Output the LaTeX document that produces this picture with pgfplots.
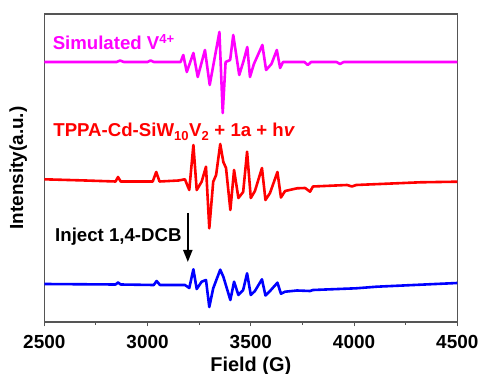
\documentclass[border=0pt]{standalone}
\usepackage{fontspec}
\setmainfont{Liberation Sans}
\usepackage{pgfplots}
\pgfplotsset{compat=1.18}
\usetikzlibrary{arrows.meta}
\definecolor{axgray}{RGB}{85,85,85}
\definecolor{cmag}{RGB}{255,0,255}
\definecolor{cred}{RGB}{255,0,0}
\definecolor{cblue}{RGB}{0,0,255}
\newcommand{\lf}{\fontsize{18.7}{22}\selectfont\bfseries}
\newcommand{\tf}{\fontsize{19}{22}\selectfont\bfseries}
\begin{document}
\begin{tikzpicture}
\useasboundingbox (-44.3bp,-52bp) rectangle (435.7bp,322bp);
\begin{axis}[
  at={(0,0)}, anchor=south west,
  width=413bp, height=308bp, scale only axis,
  xmin=2500, xmax=4500, ymin=0, ymax=308,
  xtick={2500,3000,3500,4000,4500},
  minor x tick num=1,
  ytick=\empty,
  xtick pos=left,
  tick align=outside,
  major tick length=4.3bp, minor tick length=2.5bp,
  axis line style={draw=axgray, line width=1.1bp},
  tick style={draw=axgray, line width=1.1bp},
  /pgf/number format/1000 sep={},
  /pgf/number format/assume math mode=true,
  xticklabel style={font=\tf, inner sep=0pt, anchor=north, yshift=-9bp},
  xlabel={Field (G)},
  ylabel={Intensity(a.u.)},
  xlabel style={font=\fontsize{20}{24}\selectfont\bfseries, at={(axis description cs:0.5,-0.1429)}, anchor=center},
  ylabel style={font=\tf, at={(axis description cs:-0.063,0.5)}, anchor=center},
  clip=true,
]
\addplot[cmag, line width=2.6bp, line join=round] coordinates {
(2500,260) (2850,260) (2867,261.5) (2885,260) (3000,260) (3015,261.5) (3030,260)
(3160,260) (3173,267) (3190,250) (3222,269) (3243,245) (3278,272) (3301,237)
(3348,290) (3364,209) (3378,260) (3400,262) (3415,287) (3444,247) (3465,261)
(3483,275) (3496,245) (3515,258) (3556,277) (3574,252) (3600,258) (3626,272)
(3642,254) (3656,260) (3760,260) (3776,257) (3792,260) (3915,260) (3932,258)
(3950,260) (4500,260)
};
\addplot[cred, line width=2.6bp, line join=round] coordinates {
(2500,142.7) (2700,141.5) (2845,140.5) (2857,145) (2870,140.5) (3025,140.5)
(3042,150) (3058,140.5) (3150,141.5) (3181,142.7) (3202,132) (3222,177)
(3238,132) (3262,140.3) (3283,155.3) (3299,93.7) (3318,140.3) (3332,147)
(3352,178) (3367,160) (3380,154) (3401,112) (3419,152) (3440,124) (3463,130)
(3482,170.3) (3500,124) (3520,131) (3554,154) (3571,122) (3593,129)
(3629,150) (3646,124.5) (3666,131) (3724,133.7) (3763,134) (3787,130.3)
(3801,135.5) (3966,137) (3990,135.5) (4010,137) (4320,139.7) (4500,140.3)
};
\addplot[cblue, line width=2.6bp, line join=round] coordinates {
(2500,38) (2845,37.5) (2857,39.5) (2870,37.5) (3030,37) (3044,41) (3060,37)
(3181,37) (3202,34) (3222,52.7) (3238,33) (3262,40.3) (3283,42) (3299,15)
(3318,33.7) (3352,52.3) (3367,45.3) (3401,22) (3419,40.3) (3440,27) (3463,32)
(3482,48.7) (3500,27) (3520,31) (3554,42.7) (3571,26.5) (3593,31) (3629,39.3)
(3646,28.3) (3666,30.3) (3724,31.5) (3787,31) (3801,32) (4010,33.7)
(4110,35.3) (4500,39)
};
\node[anchor=base west, inner sep=0pt, text=cmag, font=\lf] at (axis cs:2540,272) {Simulated V\textsuperscript{4+}};
\node[anchor=base west, inner sep=0pt, text=cred, font=\lf] at (axis cs:2543,185) {TPPA-Cd-SiW\textsubscript{10}V\textsubscript{2} + 1a + h\textit{v}};
\node[anchor=base west, inner sep=0pt, text=black, font=\lf] at (axis cs:2552,80.3) {Inject 1,4-DCB};
\draw[black, line width=2bp, -{Triangle[width=9bp,length=12bp]}] (axis cs:3195,109) -- (axis cs:3195,60);
\end{axis}
\end{tikzpicture}
\end{document}
